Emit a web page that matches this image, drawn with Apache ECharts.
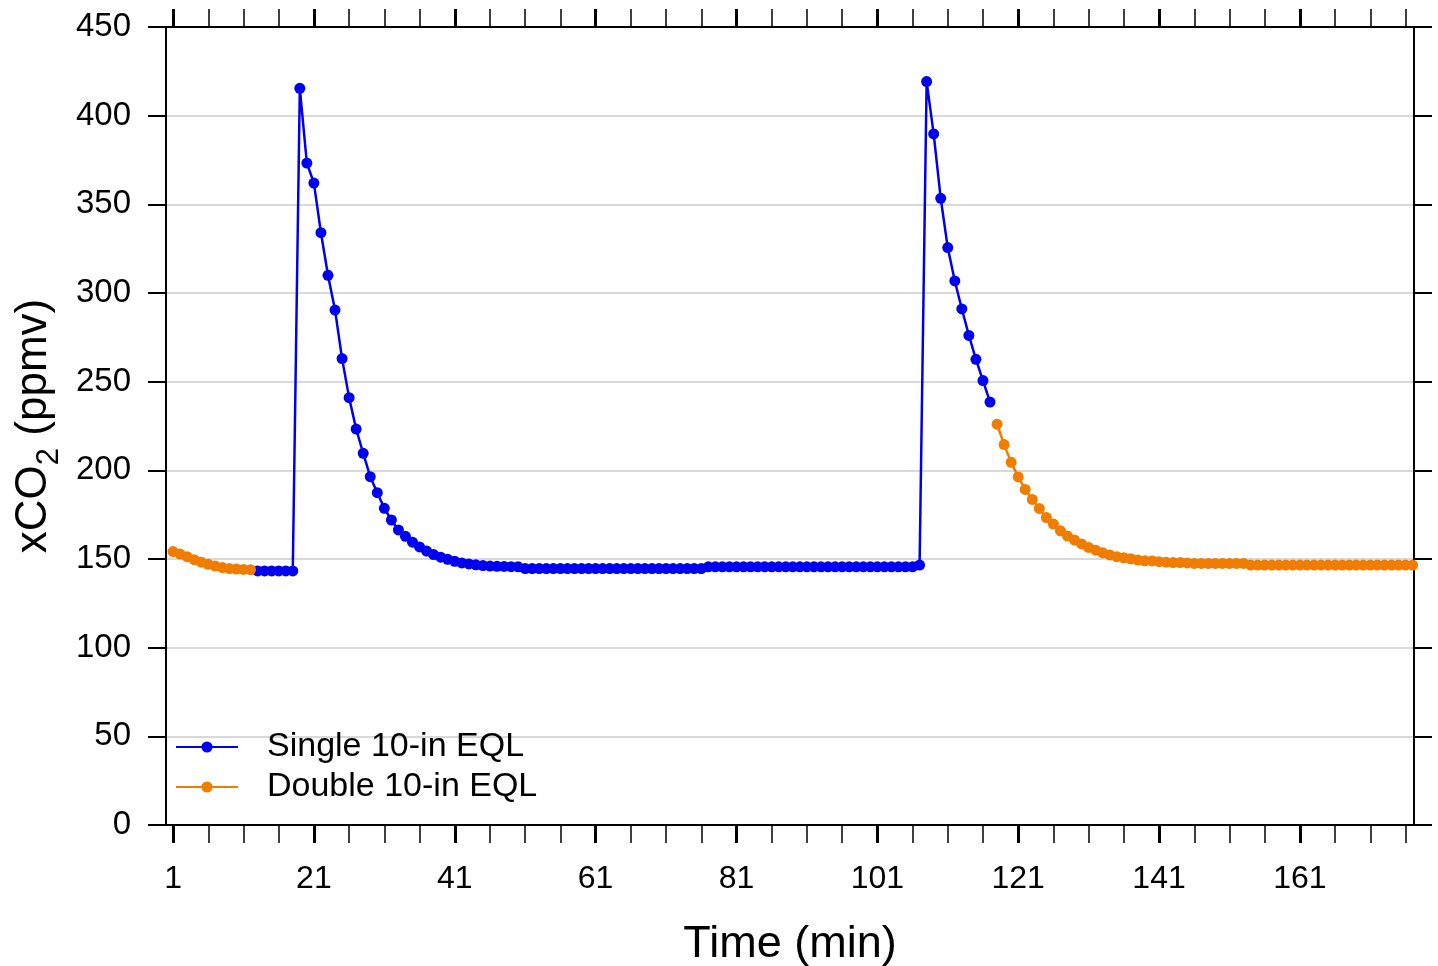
<!DOCTYPE html>
<html>
<head>
<meta charset="utf-8">
<script src="https://cdn.jsdelivr.net/npm/echarts@6/dist/echarts.min.js"></script>
<style>
html,body{margin:0;padding:0;background:#fff;}
#chart{width:1438px;height:966px;}
</style>
</head>
<body>
<div id="chart"></div>
<script>
// ---- Data ----
const xMajorTicks = [1, 21, 41, 61, 81, 101, 121, 141, 161];
const xMinorTicks = [6, 11, 16, 26, 31, 36, 46, 51, 56, 66, 71, 76, 86, 91, 96, 106, 111, 116, 126, 131, 136, 146, 151, 156, 166, 171, 176];
const yTicks = [0, 50, 100, 150, 200, 250, 300, 350, 400, 450];

// Double 10-in EQL, minutes 1..12
const doubleStart1 = 1;
const doubleValues1 = [154.2, 152.8, 151.3, 149.6, 148.2, 147.0, 146.0, 145.2, 144.6, 144.3, 144.1, 144.0];

// Single 10-in EQL, minutes 13..117
const singleStart = 13;
const singleValues = [
  143.3, 143.3, 143.3, 143.3, 143.3, 143.3,
  415.4, 373.3, 362.0, 334.0, 310.0, 290.4, 263.0, 241.0, 223.3, 209.6,
  196.4, 187.4, 178.6, 172.0, 166.4, 162.8, 159.5, 156.8, 154.5, 152.5,
  151.0, 149.8, 148.7, 147.8, 147.2, 146.7, 146.3, 146.0, 145.9, 145.8,
  145.7, 145.6,
  144.6, 144.6, 144.6, 144.6, 144.6, 144.6, 144.6, 144.6, 144.6, 144.6,
  144.6, 144.6, 144.6, 144.6, 144.6, 144.6, 144.6, 144.6, 144.6, 144.6,
  144.6, 144.6, 144.6, 144.6, 144.6, 144.6,
  145.6, 145.6, 145.6, 145.6, 145.6, 145.6, 145.6, 145.6, 145.6, 145.6,
  145.6, 145.6, 145.6, 145.6, 145.6, 145.6, 145.6, 145.6, 145.6, 145.6,
  145.6, 145.6, 145.6, 145.6, 145.6, 145.6, 145.6, 145.6, 145.6, 145.6,
  146.6,
  419.2, 389.7, 353.4, 325.6, 306.8, 291.0, 276.1, 262.6, 250.6, 238.5
];

// Double 10-in EQL, minutes 118..177
const doubleStart2 = 118;
const doubleValues2 = [
  226.0, 214.5, 204.5, 196.3, 189.2, 183.6, 178.5, 173.4, 169.7, 165.9,
  162.9, 160.7, 158.5, 156.5, 155.0, 153.5, 152.3, 151.3, 150.7, 150.1,
  149.4, 149.0, 148.9, 148.5, 148.2, 148.0, 148.0, 147.8,
  147.5, 147.5, 147.5, 147.5, 147.5, 147.5, 147.5, 147.5,
  146.6, 146.6, 146.6, 146.6, 146.6, 146.6, 146.6, 146.6, 146.6, 146.6,
  146.6, 146.6, 146.6, 146.6, 146.6, 146.6, 146.6, 146.6, 146.6, 146.6,
  146.6, 146.6, 146.6, 146.6
];

const seriesNames = ['Single 10-in EQL', 'Double 10-in EQL'];
const xTitle = 'Time (min)';

// ---- Build ----
function pairs(start, vals) { return vals.map((v, i) => [start + i, v]); }

const BLUE = '#0000f0';
const ORANGE = '#f07c00';
const FONT = '"Liberation Sans", Arial, sans-serif';

const chart = echarts.init(document.getElementById('chart'), null, {renderer: 'canvas'});

const xBase = {
  type: 'value', min: 0, max: 177.2, gridIndex: 0,
  splitLine: {show: false},
  axisLine: {show: true, onZero: false, lineStyle: {color: '#000', width: 2}}
};

function lineSeries(name, data, color) {
  return {
    name: name, type: 'line', data: data,
    xAxisIndex: 0, yAxisIndex: 0,
    symbol: 'circle', symbolSize: 11, showSymbol: true,
    lineStyle: {color: color, width: 2.5},
    itemStyle: {color: color},
    animation: false, z: 3
  };
}

const option = {
  backgroundColor: '#fff',
  animation: false,
  grid: {left: 166, right: 24, top: 27, bottom: 141, containLabel: false, outerBoundsMode: 'none'},
  legend: {
    data: seriesNames,
    orient: 'vertical', left: 170, top: 725,
    itemWidth: 62, itemHeight: 14, itemGap: 6,
    textStyle: {fontFamily: FONT, fontSize: 34, color: '#000', lineHeight: 34, padding: [0, 0, 0, 24]}
  },
  xAxis: [
    Object.assign({}, xBase, {
      position: 'bottom',
      name: xTitle, nameLocation: 'middle', nameGap: 97,
      nameTextStyle: {fontFamily: FONT, fontSize: 45, color: '#000'},
      axisTick: {show: true, inside: false, length: 18, customValues: xMinorTicks, lineStyle: {color: '#000', width: 1.5}},
      axisLabel: {show: true, customValues: xMajorTicks, margin: 38, fontFamily: FONT, fontSize: 32, color: '#000'}
    }),
    Object.assign({}, xBase, {
      position: 'bottom',
      axisTick: {show: true, inside: false, length: 18, customValues: xMajorTicks, lineStyle: {color: '#000', width: 3}},
      axisLabel: {show: false}
    }),
    Object.assign({}, xBase, {
      position: 'top',
      axisTick: {show: true, inside: false, length: 18, customValues: xMinorTicks, lineStyle: {color: '#000', width: 1.5}},
      axisLabel: {show: false}
    }),
    Object.assign({}, xBase, {
      position: 'top',
      axisTick: {show: true, inside: false, length: 18, customValues: xMajorTicks, lineStyle: {color: '#000', width: 3}},
      axisLabel: {show: false}
    })
  ],
  yAxis: [
    {
      type: 'value', min: 0, max: 450, interval: 50, position: 'left',
      name: '{a|xCO}{s|2}{a| (ppmv)}', nameLocation: 'middle', nameGap: 108, nameRotate: 90,
      nameTextStyle: {
        fontFamily: FONT, color: '#000',
        rich: {
          a: {fontFamily: FONT, fontSize: 44, color: '#000', verticalAlign: 'bottom', lineHeight: 50},
          s: {fontFamily: FONT, fontSize: 31, color: '#000', verticalAlign: 'bottom', lineHeight: 38, padding: [0, 0, -9, 0]}
        }
      },
      axisLine: {show: true, onZero: false, lineStyle: {color: '#000', width: 2}},
      axisTick: {show: true, inside: false, length: 18, lineStyle: {color: '#000', width: 2}},
      axisLabel: {show: true, margin: 35, fontFamily: FONT, fontSize: 33, color: '#000'},
      splitLine: {show: true, lineStyle: {color: '#d9d9d9', width: 2}}
    },
    {
      type: 'value', min: 0, max: 450, interval: 50, position: 'right',
      axisLine: {show: true, onZero: false, lineStyle: {color: '#000', width: 2}},
      axisTick: {show: true, inside: false, length: 18, lineStyle: {color: '#000', width: 2}},
      axisLabel: {show: false},
      splitLine: {show: false}
    }
  ],
  series: [
    lineSeries(seriesNames[0], pairs(singleStart, singleValues), BLUE),
    lineSeries(seriesNames[1], pairs(doubleStart1, doubleValues1), ORANGE),
    lineSeries(seriesNames[1], pairs(doubleStart2, doubleValues2), ORANGE)
  ]
};

chart.setOption(option);
</script>
</body>
</html>
